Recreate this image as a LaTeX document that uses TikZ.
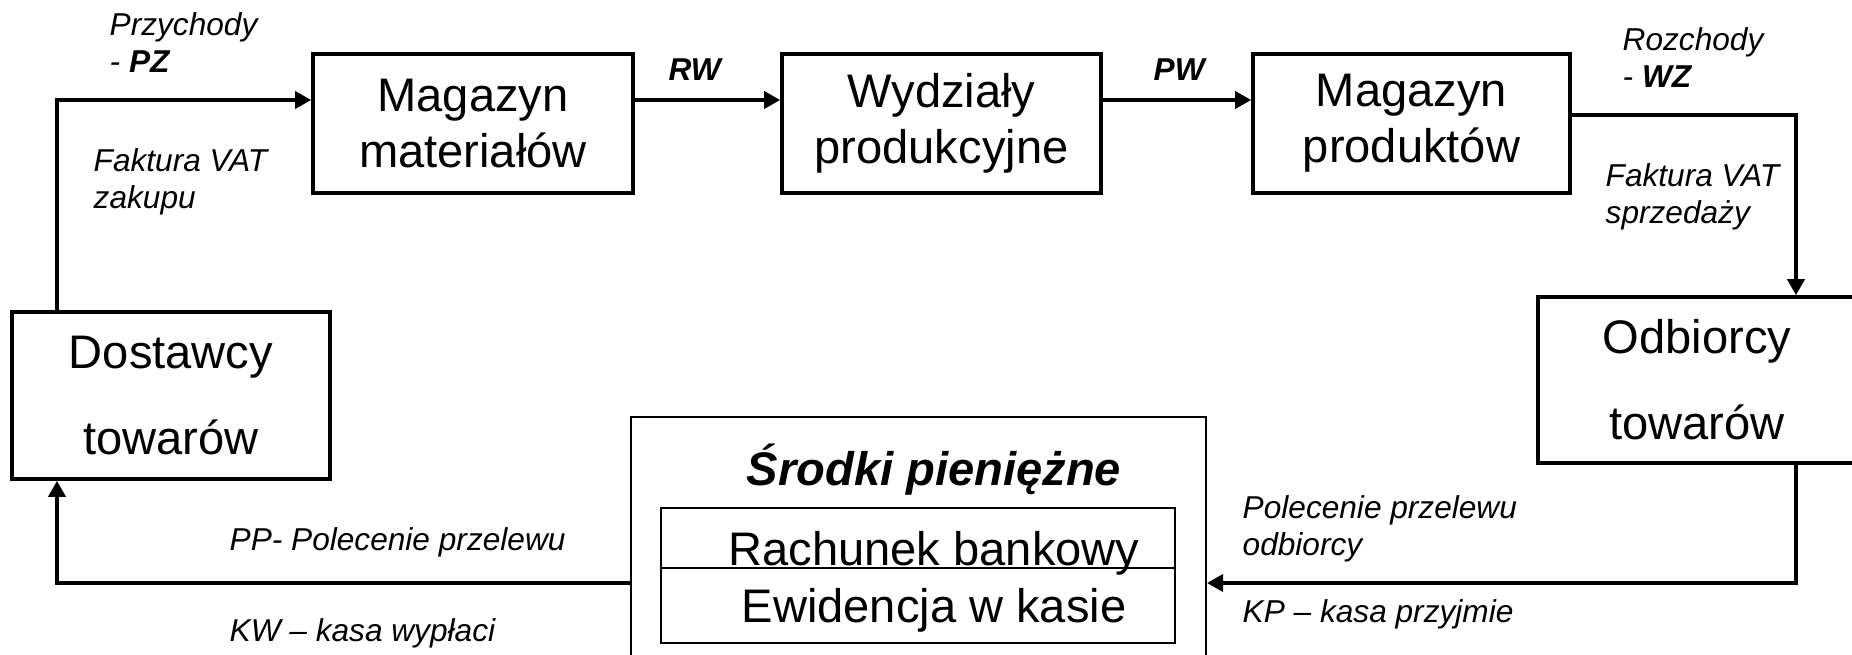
\documentclass[tikz,border=0pt]{standalone}
\usepackage{fontspec}
\setmainfont{Liberation Sans}
\usetikzlibrary{arrows.meta,calc,positioning}
\tikzset{%
	blok/.style     = {draw, rectangle, line width=1.05pt, minimum width=3.18cm, minimum height=1.39cm, inner sep=0pt, align=center, font=\fontsize{13.4}{15.9}\selectfont},
	blokduzy/.style = {blok, minimum height=1.67cm, font=\fontsize{13.4}{24.5}\selectfont},
	kasa/.style     = {draw, rectangle, line width=0.6pt, inner sep=0pt},
	napis/.style    = {anchor=base, inner sep=0pt, font=\fontsize{13.4}{15.9}\selectfont},
	opis/.style     = {anchor=base west, inner sep=0pt, align=left, font=\fontsize{9}{10.5}\selectfont\itshape},
	strzalka/.style = {line width=1.05pt, -{Triangle[length=0.16cm, width=0.17cm]}},
}
\begin{document}
\begin{tikzpicture}
	\useasboundingbox (0,0) rectangle (18.52,-6.55);
	\clip (0,0) rectangle (18.52,-6.55);
	% gorny rzad
	\node[blok, minimum width=3.20cm] (mm) at (4.73,-1.235) {Magazyn\\materiałów};
	\node[blok, minimum width=3.19cm] (wp) at (9.415,-1.235) {Wydziały\\produkcyjne};
	\node[blok, minimum width=3.17cm] (mp) at (14.115,-1.235) {Magazyn\\produktów};
	% kontrahenci
	\node[blokduzy] (dost) at (1.71,-3.955) {Dostawcy\\towarów};
	\node[blokduzy, minimum height=1.66cm] (odb) at (16.97,-3.80) {Odbiorcy\\towarów};
	% srodki pieniezne
	\node[kasa, minimum width=5.75cm, minimum height=2.63cm] (srodki) at (9.185,-5.485) {};
	\node[kasa, minimum width=5.14cm, minimum height=0.60cm] (rach) at (9.18,-5.38) {};
	\node[kasa, minimum width=5.14cm, minimum height=0.75cm] (ewid) at (9.18,-6.055) {};
	\node[napis] (tytul) at (9.34,-4.85) {\textbf{\textit{Środki pieniężne}}};
	\node[napis] (rachtxt) at (9.34,-5.65) {Rachunek bankowy};
	\node[napis] (ewidtxt) at (9.34,-6.22) {Ewidencja w kasie};
	% polaczenia
	\coordinate (lg) at (0.57,-1.00);
	\coordinate (pg) at (17.96,-1.15);
	\coordinate (pd) at (17.96,-5.83);
	\coordinate (ld) at (0.57,-5.83);
	\draw[strzalka] (dost.north -| lg) -- (lg) -- (mm.west |- lg);
	\draw[strzalka] (mm.east |- lg) -- (wp.west |- lg);
	\draw[strzalka] (wp.east |- lg) -- (mp.west |- lg);
	\draw[strzalka] (mp.east |- pg) -- (pg) -- (odb.north -| pg);
	\draw[strzalka] (odb.south -| pd) -- (pd) -- (srodki.east |- pd);
	\draw[strzalka] (srodki.west |- ld) -- (ld) -- (dost.south -| ld);
	% opisy dokumentow (base = ostatnia linia)
	\node[opis] (przych) at (1.09,-0.72) {Przychody\\- \textbf{PZ}};
	\node[opis] (fvz) at (0.93,-2.08) {Faktura VAT\\zakupu};
	\node[opis] (rw) at (6.68,-0.80) {\textbf{RW}};
	\node[opis] (pw) at (11.53,-0.80) {\textbf{PW}};
	\node[opis] (rozch) at (16.22,-0.87) {Rozchody\\- \textbf{WZ}};
	\node[opis] (fvs) at (16.05,-2.23) {Faktura VAT\\sprzedaży};
	\node[opis] (pp) at (2.29,-5.50) {PP- Polecenie przelewu};
	\node[opis] (kw) at (2.29,-6.41) {KW – kasa wypłaci};
	\node[opis] (polodb) at (12.42,-5.55) {Polecenie przelewu\\odbiorcy};
	\node[opis] (kp) at (12.42,-6.22) {KP – kasa przyjmie};
\end{tikzpicture}
\end{document}
